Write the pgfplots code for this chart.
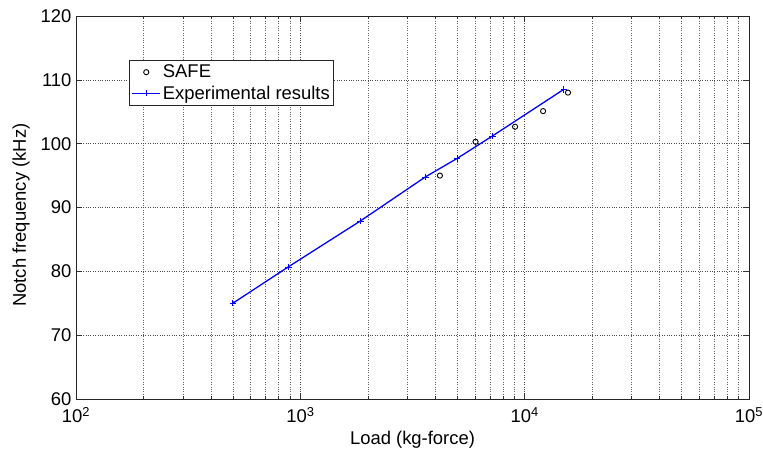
\documentclass[border=0pt]{standalone}
\usepackage{pgfplots}
\pgfplotsset{compat=1.18}
\usepackage{fontspec}
\setmainfont{Liberation Sans}
\begin{document}
\begin{tikzpicture}
\begin{axis}[
  scale only axis, width=673bp, height=383bp,
  xmode=log, xmin=100, xmax=100000, ymin=60, ymax=120,
  xtick={100,1000,10000,100000},
  xticklabels={10\textsuperscript{2},10\textsuperscript{3},10\textsuperscript{4},10\textsuperscript{5}},
  minor xtick={200,300,400,500,600,700,800,900,2000,3000,4000,5000,6000,7000,8000,9000,20000,30000,40000,50000,60000,70000,80000,90000},
  ytick={60,70,80,90,100,110,120},
  yticklabels={60,70,80,90,100,110,120},
  xmajorgrids, xminorgrids, ymajorgrids,
  major grid style={dotted, black!70, line width=0.6pt},
  minor grid style={dotted, black!60, line width=0.6pt},
  tick align=inside,
  major tick length=6bp, minor tick length=3bp,
  tick style={black!80, line width=0.5pt},
  axis line style={black!85, line width=0.9pt},
  ticklabel style={font=\fontsize{18.5}{21}\selectfont},
  xticklabel style={yshift=-5bp},
  yticklabel style={xshift=-1bp},
  xlabel={Load (kg-force)},
  ylabel={Notch frequency (kHz)},
  label style={font=\fontsize{18.5}{21}\selectfont},
  xlabel style={at={(axis description cs:0.5,0)}, anchor=center, yshift=-41bp},
  ylabel style={at={(axis description cs:0,0.48)}, anchor=center, yshift=55bp},
  legend style={at={(0.079,0.885)}, anchor=north west, draw=black!85, line width=0.9pt,
    font=\fontsize{18.5}{21}\selectfont, inner xsep=2bp, inner ysep=2.5bp, row sep=2.5bp},
  legend cell align=left,
  legend image code/.code={\draw[mark repeat=2,mark phase=2,#1] plot coordinates {(0bp,0bp)(14bp,0bp)(28bp,0bp)};},
]
\addplot[only marks, mark=o, mark size=2.6bp, black, mark options={line width=0.9pt}]
  coordinates {(4190,95.0) (6040,100.3) (9060,102.65) (12080,105.1) (15600,108.0)};
\addlegendentry{SAFE}
\addplot[blue, line width=1.3pt, mark=+, mark size=3.2bp, mark options={line width=0.7pt}]
  coordinates {(500,75.0) (884,80.7) (1854,87.9) (3614,94.8) (5006,97.7) (7180,101.2) (14930,108.5)};
\addlegendentry{Experimental results}
\end{axis}
\pgfresetboundingbox
\path (-76bp,-61bp) rectangle (687bp,399bp);
\end{tikzpicture}
\end{document}
